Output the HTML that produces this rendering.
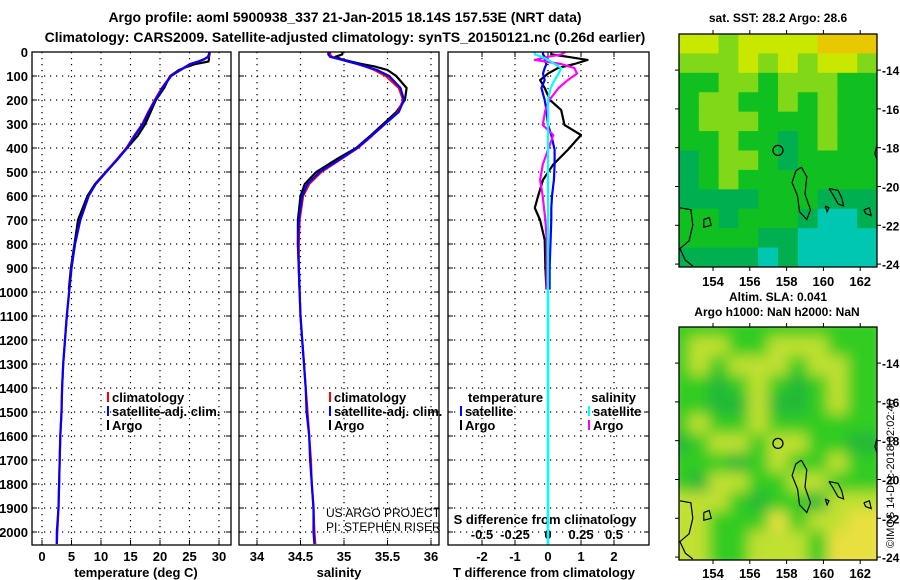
<!DOCTYPE html>
<html><head><meta charset="utf-8">
<style>
html,body{margin:0;padding:0;background:#fff;}
svg{display:block;font-family:"Liberation Sans",sans-serif;font-weight:bold;}
text{font-size:13px;fill:#000;}
</style></head>
<body>
<svg id="chart" xmlns="http://www.w3.org/2000/svg" width="900" height="580" viewBox="0 0 900 580">
<defs><filter id="blur" x="0" y="0" width="100%" height="100%"><feGaussianBlur stdDeviation="7"/></filter>
<clipPath id="clipSLA"><rect x="679" y="327" width="198" height="233"/></clipPath>
<clipPath id="clipSST"><rect x="679" y="34" width="198" height="233"/></clipPath></defs>
<text x="345" y="22" text-anchor="middle" style="font-size:14px">Argo profile: aoml 5900938_337 21-Jan-2015 18.14S 157.53E (NRT data)</text>
<text x="345" y="42" text-anchor="middle" style="font-size:14px">Climatology: CARS2009. Satellite-adjusted climatology: synTS_20150121.nc (0.26d earlier)</text>
<g id="g"></g>
<text transform="translate(894,548) rotate(-90)" style="font-size:11px;font-weight:normal">©IMOS 14-Dec-2018 02:02:46</text>
</svg>
<script>
// ---- data ----
const depths=[0,10,20,30,40,50,60,75,100,150,200,250,300,350,400,450,500,550,600,700,800,900,1000,1100,1200,1300,1400,1500,1600,1700,1800,1900,2000,2050];
const tempClim=[28.4,28.4,28.2,27.5,26.5,25.2,24.5,23.5,21.8,20.3,19.1,18,17,15.6,14.3,12.6,10.8,9.1,7.9,6.5,5.6,5,4.6,4.2,3.9,3.6,3.4,3.3,3.1,3.0,2.9,2.8,2.6,2.5];
const tempSat=[28.3,28.3,28.1,27.5,26.4,25.1,24.4,23.4,21.9,20.4,19.2,18.1,17.1,15.7,14.4,12.7,10.9,9.1,7.9,6.5,5.6,5,4.6,4.2,3.9,3.6,3.4,3.3,3.1,3.0,2.9,2.8,2.5,2.5];
const argoDepths=[0,10,20,30,40,50,60,75,100,150,200,250,300,350,400,450,500,550,600,700,800,900,990];
const tempArgo=[28.4,28.4,28.3,28.3,28.2,26,24.8,23.2,21.7,20.7,19.3,18.4,17.5,16.2,14.4,12.7,10.8,9,7.7,6.1,5.5,4.9,4.55];
const salClim=[34.84,34.84,34.86,34.95,35.05,35.15,35.24,35.35,35.48,35.63,35.68,35.62,35.47,35.32,35.16,34.95,34.74,34.6,34.53,34.49,34.48,34.48,34.49,34.5,34.52,34.54,34.56,34.58,34.6,34.62,34.63,34.65,34.66,34.67];
const salSat=[34.82,34.82,34.84,34.95,35.05,35.16,35.25,35.38,35.52,35.65,35.69,35.63,35.47,35.31,35.15,34.94,34.72,34.58,34.52,34.48,34.47,34.48,34.49,34.5,34.52,34.54,34.56,34.57,34.6,34.61,34.63,34.65,34.65,34.66];
const salArgo=[34.98,34.98,34.9,34.97,35.08,35.2,35.35,35.5,35.6,35.72,35.7,35.6,35.45,35.3,35.14,34.9,34.68,34.55,34.5,34.47,34.47,34.48,34.49];
const diffDepths=[0,10,20,33,50,67,90,117,150,200,242,304,346,408,470,533,600,650,700,783,900,990];
const tdiffArgo=[0.1,0.1,0.6,1.2,0.8,0.3,0,-0.24,-0.1,0.06,0.4,0.5,1.0,0.6,0.15,-0.15,-0.3,-0.4,-0.24,-0.1,-0.08,-0.05];
const tdiffSat=[-0.15,-0.15,-0.1,-0.1,-0.05,-0.1,-0.15,-0.1,-0.2,-0.1,-0.05,0,0.1,0.2,0.2,0.18,0.12,0.1,0.1,0.08,0.05,0.05];
const sdiffArgo=[0.13,0.1,0.0,-0.1,0.1,0.2,0.22,0.15,0.08,0.01,-0.02,-0.04,0.04,0,-0.04,-0.06,-0.04,-0.03,-0.02,-0.01,-0.01,-0.01];
const sdiffSat=[-0.1,-0.1,-0.05,0,0.05,0.1,0.08,0.05,0.02,0,0,0,0,0,0,0,0,0,0,0,0,0];
const tempTicks=[0,5,10,15,20,25,30];
const salTicks=[34,34.5,35,35.5,36];
const tdTicks=[-2,-1,0,1,2];
const sdTicks=[-0.5,-0.25,0,0.25,0.5];
const sdTickLabels=["-0.5","-0.25","0","0.25","0.5"];
const depthTicks=[0,100,200,300,400,500,600,700,800,900,1000,1100,1200,1300,1400,1500,1600,1700,1800,1900,2000];
const lonTicks=[154,156,158,160,162];
const latTicks=[-14,-16,-18,-20,-22,-24];
const sstGrid=[
[4,4,3,4,4,4,4,5,5,5],[3,3,3,4,3,4,3,4,4,3],[2,2,3,3,2,3,3,3,2,2],[2,3,3,2,2,3,2,3,2,2],
[2,3,3,3,2,2,2,3,2,2],[2,2,3,2,2,1,2,3,2,2],[1,2,3,3,2,1,2,2,2,2],[1,2,3,2,2,2,2,2,2,2],
[1,1,1,1,2,2,2,1,1,1],[2,2,1,2,2,2,1,0,0,1],[2,2,2,2,1,1,0,0,0,0],[1,1,1,1,0,1,0,0,0,0]];
const slaGrid=[
[2,2,2,2,2,2,2,2,2,2],[2,3,3,2,2,3,3,3,2,2],[2,3,2,3,3,3,2,3,3,2],[2,2,1,2,3,2,1,2,3,2],
[2,2,1,1,3,1,1,2,3,2],[2,3,2,2,3,2,2,2,2,2],[1,2,3,3,2,3,3,2,2,1],[2,2,2,1,2,3,2,2,3,2],
[2,1,3,3,2,2,3,3,2,2],[3,3,3,2,1,2,2,1,3,3],[3,3,2,2,2,4,2,3,3,4],[3,3,2,2,3,3,3,2,4,4]];
const sstColors=["#00c8b0","#00b050","#10c020","#80d818","#c8e800","#e8c800"];
const slaColors=["#109848","#20b838","#30cc20","#c0e030","#e8e040"];
// ---- helpers ----
const NS="http://www.w3.org/2000/svg";
const G=document.getElementById('g');
function mk(tag,attrs,parent){const e=document.createElementNS(NS,tag);for(const k in attrs)e.setAttribute(k,attrs[k]);(parent||G).appendChild(e);return e;}
function txt(x,y,s,anchor,size,name){const t=mk('text',{x:x,y:y,'text-anchor':anchor||'start'});if(size)t.style.fontSize=size+'px';t.textContent=s;


return t;}
const Y0=52, PXM=0.24, YB=545;
const yD=d=>Y0+d*PXM;
const panels=[
 {x0:32,x1:231,sx:v=>42+v*5.9},
 {x0:239,x1:439,sx:v=>257+(v-34)*87},
 {x0:448,x1:649,sx:v=>548+v*33}
];
const sdx=v=>548+v*132;
function dotted(x1,y1,x2,y2){const l=mk('line',{x1:x1,y1:y1,x2:x2,y2:y2,stroke:'#000','stroke-width':1.2,'stroke-dasharray':'1.2,4.8'});

}
function poly(xs,ds,sx,color,w,name){const pts=xs.map((v,i)=>sx(v).toFixed(1)+','+yD(ds[i]).toFixed(1)).join(' ');
const p=mk('polyline',{points:pts,fill:'none',stroke:color,'stroke-width':w||2.2,'stroke-linejoin':'round'});

}
panels.forEach((p,i)=>{
 depthTicks.forEach(d=>{if(d>0)dotted(p.x0,yD(d),p.x1,yD(d));mk('line',{x1:p.x0,y1:yD(d),x2:p.x0+5,y2:yD(d),stroke:'#000'});mk('line',{x1:p.x1,y1:yD(d),x2:p.x1-5,y2:yD(d),stroke:'#000'});});
 const ticks=i==0?tempTicks:i==1?salTicks:tdTicks;
 ticks.forEach(t=>{dotted(p.sx(t),Y0,p.sx(t),YB);mk('line',{x1:p.sx(t),y1:YB,x2:p.sx(t),y2:YB-5,stroke:'#000'});
  txt(p.sx(t),561,String(t),'middle',13,'x-tick-label');});
});
depthTicks.forEach(d=>txt(28,yD(d)+5,String(d),'end',13,'y-tick-label'));
txt(136,577,'temperature (deg C)','middle',13,'x-axis-title-temperature');
txt(339,577,'salinity','middle',13,'x-axis-title-salinity');
txt(544,577,'T difference from climatology','middle',13,'x-axis-title-tdiff');
txt(545,524,'S difference from climatology','middle',13,'x-axis-title-sdiff');
sdTicks.forEach((t,i)=>{mk('line',{x1:sdx(t),y1:Y0,x2:sdx(t),y2:Y0+5,stroke:'#000'});txt(sdx(t),539,sdTickLabels[i],'middle',13,'sdiff-tick-label');});
// profiles
poly(tempArgo,argoDepths,panels[0].sx,'#000',2.2,'temp-argo-line');
poly(tempClim,depths,panels[0].sx,'#ff0000',2.2,'temp-clim-line');
poly(tempSat,depths,panels[0].sx,'#0000ff',2.2,'temp-sat-line');
poly(salArgo,argoDepths,panels[1].sx,'#000',2.2,'sal-argo-line');
poly(salClim,depths,panels[1].sx,'#ff0000',2.2,'sal-clim-line');
poly(salSat,depths,panels[1].sx,'#0000ff',2.2,'sal-sat-line');
poly(tdiffArgo,diffDepths,panels[2].sx,'#000',2.2,'tdiff-argo-line');
poly(tdiffSat,diffDepths,panels[2].sx,'#0000ff',2.2,'tdiff-sat-line');
poly(sdiffArgo,diffDepths,sdx,'#ff00ff',2.2,'sdiff-argo-line');
poly(sdiffSat,diffDepths,sdx,'#00ffff',2.2,'sdiff-sat-line');
mk('line',{x1:548,y1:yD(990),x2:548,y2:YB,stroke:'#00ffff','stroke-width':2.5});
// panel frames
panels.forEach((p,i)=>{const r=mk('rect',{x:p.x0,y:Y0,width:p.x1-p.x0,height:YB-Y0,fill:'none',stroke:'#000','stroke-width':1.3});

});
// legends
function leg(x,y,c,s,name){mk('rect',{x:x,y:y-10,width:2,height:10,fill:c});txt(x+5,y,s,'start',13,name);}
leg(107,402,'#f00','climatology','legend-climatology');leg(107,416,'#00f','satellite-adj. clim.','legend-satellite');leg(107,430,'#000','Argo','legend-argo');
leg(329,402,'#f00','climatology','legend-climatology-s');leg(329,416,'#00f','satellite-adj. clim.','legend-satellite-s');leg(329,430,'#000','Argo','legend-argo-s');
txt(468,402,'temperature','start',13,'legend-temperature-header');leg(460,416,'#00f','satellite','legend-t-satellite');leg(460,430,'#000','Argo','legend-t-argo');
txt(636,402,'salinity','end',13,'legend-salinity-header');leg(588,416,'#0ff','satellite','legend-s-satellite');leg(588,430,'#f0f','Argo','legend-s-argo');
const c1=txt(326,517,'US ARGO PROJECT','start',12,'credit-project');c1.style.fontWeight='normal';
const c2=txt(326,531,'PI: STEPHEN RISER','start',12,'credit-pi');c2.style.fontWeight='normal';
// maps
const MX0=679,MX1=877;
const lonX=lon=>713+(lon-154)*18.4;
function map(y0,y1,grid,colors,blur,clip,name){
 const g=mk('g',{'clip-path':'url(#'+clip+')'});
 
 
 const inner=mk('g',blur?{filter:'url(#blur)'}:{},g);
 const rows=grid.length,cols=grid[0].length,cw=(MX1-MX0)/cols,ch=(y1-y0)/rows;
 grid.forEach((row,r)=>row.forEach((v,c)=>{const cell=mk('rect',{x:MX0+c*cw-(blur?10:0),y:y0+r*ch-(blur?10:0),width:cw+(blur?20:0.6),height:ch+(blur?20:0.6),fill:colors[v]},inner);
  
  }));
 const ly=lat=>y0+(-12.14-lat)*19.4;
 const path=pts=>pts.map((p,i)=>(i?'L':'M')+lonX(p[0]).toFixed(1)+','+ly(p[1]).toFixed(1)).join('');
 [[[158.8,-19],[158.5,-19.2],[158.3,-19.8],[158.6,-20.5],[158.7,-21.3],[159.1,-21.7],[159.3,-21.2],[159.0,-20.4],[159.1,-19.5],[158.8,-19]],
  [[160.3,-20.1],[160.8,-20.2],[161.0,-20.6],[161.1,-21.0],[160.8,-20.9],[160.5,-20.4],[160.3,-20.1]],
  [[152.2,-21.1],[152.8,-21.2],[152.9,-22.0],[152.7,-22.8],[152.2,-23.2],[152.5,-23.8],[152.9,-24.1]],
  [[153.5,-21.7],[153.8,-21.6],[153.9,-22.0],[153.5,-22.1],[153.5,-21.7]],
  [[162.2,-21.2],[162.5,-21.1],[162.6,-21.5],[162.3,-21.4],[162.2,-21.2]],
  [[162.9,-17.9],[162.8,-18.3],[162.9,-18.6]],[[160.1,-21.0],[160.3,-21.1],[160.2,-21.3],[160.1,-21.0]]
 ].forEach(pts=>{const pth=mk('path',{d:path(pts),fill:'none',stroke:'#000','stroke-width':1.2},g);
  
  });
 const cir=mk('circle',{cx:lonX(157.53),cy:ly(-18.14),r:5,fill:'none',stroke:'#000','stroke-width':1.3});
 
 
 const fr=mk('rect',{x:MX0,y:y0,width:MX1-MX0,height:y1-y0,fill:'none',stroke:'#000','stroke-width':1.3});
 
 
 latTicks.forEach(l=>{const yy=ly(l);mk('line',{x1:MX1,y1:yy,x2:MX1+4,y2:yy,stroke:'#000'});mk('line',{x1:MX0,y1:yy,x2:MX0-4,y2:yy,stroke:'#000'});txt(MX1+5,yy+5,String(l),'start',12,'lat-tick-label');});
 lonTicks.forEach(l=>{mk('line',{x1:lonX(l),y1:y1,x2:lonX(l),y2:y1+4,stroke:'#000'});mk('line',{x1:lonX(l),y1:y0,x2:lonX(l),y2:y0-4,stroke:'#000'});});
}
map(34,267,sstGrid,sstColors,false,'clipSST','sst-map');
lonTicks.forEach(l=>txt(lonX(l),286,String(l),'middle',13,'lon-tick-label'));
map(327,560,slaGrid,slaColors,true,'clipSLA','sla-map');
lonTicks.forEach(l=>txt(lonX(l),578,String(l),'middle',13,'lon-tick-label'));
txt(778,22,'sat. SST: 28.2 Argo: 28.6','middle',12,'sst-map-title');
txt(778,301,'Altim. SLA: 0.041','middle',12,'sla-map-title');
txt(777,316,'Argo h1000: NaN h2000: NaN','middle',12,'sla-map-subtitle');
</script>
</body></html>
